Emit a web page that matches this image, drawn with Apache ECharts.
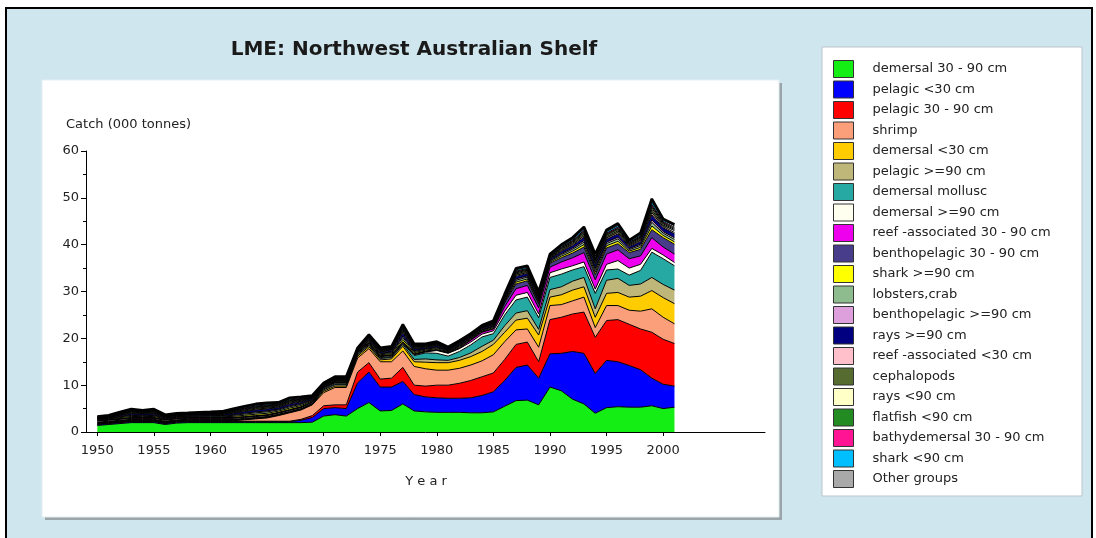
<!DOCTYPE html>
<html>
<head>
<meta charset="utf-8">
<title>LME: Northwest Australian Shelf</title>
<script src="https://cdn.jsdelivr.net/npm/echarts@6.0.0/dist/echarts.min.js"></script>
<style>
  html, body { margin: 0; padding: 0; background: #ffffff; }
  #chart { width: 1096px; height: 538px; }
</style>
</head>
<body>
<div id="chart"></div>
<script>
// Catch by functional group, thousand tonnes per year
const years = [1950,1951,1952,1953,1954,1955,1956,1957,1958,1959,
  1960,1961,1962,1963,1964,1965,1966,1967,1968,1969,
  1970,1971,1972,1973,1974,1975,1976,1977,1978,1979,
  1980,1981,1982,1983,1984,1985,1986,1987,1988,1989,
  1990,1991,1992,1993,1994,1995,1996,1997,1998,1999,
  2000,2001];

const tickYears = [1950, 1955, 1960, 1965, 1970, 1975, 1980, 1985, 1990, 1995, 2000];

const demersal30to90 = [1.4,1.6,1.8,2.0,2.0,2.0,1.6,1.9,2.0,2.0,
  2.0,2.0,2.0,2.0,2.0,2.0,2.0,2.0,2.0,2.1,
  3.4,3.7,3.4,5.0,6.3,4.5,4.6,6.0,4.5,4.3,
  4.2,4.2,4.2,4.1,4.1,4.3,5.5,6.7,6.8,5.8,
  9.6,8.8,7.0,6.0,4.0,5.2,5.4,5.3,5.3,5.6,
  5.0,5.3];
const pelagicUnder30 = [0.2,0.2,0.2,0.2,0.2,0.2,0.2,0.2,0.2,0.2,
  0.2,0.2,0.2,0.2,0.2,0.2,0.2,0.2,0.5,1.0,
  1.6,1.5,1.6,5.5,6.5,5.1,5.0,4.8,3.5,3.2,
  3.1,3.0,3.0,3.2,3.7,4.3,5.5,7.1,7.5,5.7,
  7.1,8.0,10.2,10.8,8.5,10.1,9.6,8.9,8.0,5.9,
  5.2,4.5];
const pelagic30to90 = [0.1,0.1,0.1,0.1,0.1,0.1,0.1,0.1,0.1,0.1,
  0.1,0.1,0.1,0.1,0.1,0.1,0.1,0.1,0.2,0.4,
  0.6,0.6,0.8,2.3,2.0,1.7,1.9,3.0,2.0,2.3,
  2.7,2.8,3.2,3.7,4.0,4.0,4.5,4.9,4.9,3.5,
  7.3,7.7,8.0,8.8,7.7,8.5,9.0,8.8,8.7,9.8,
  9.6,9.1];
const shrimp = [0.1,0.1,0.1,0.1,0.1,0.1,0.1,0.1,0.1,0.1,
  0.1,0.1,0.1,0.3,0.5,0.7,1.2,1.8,2.0,2.3,
  2.8,3.7,3.7,3.0,3.0,3.7,3.5,3.5,4.0,3.7,
  3.2,3.2,3.2,3.3,3.4,3.9,3.8,3.1,2.8,3.1,
  3.0,2.7,2.8,3.2,2.1,3.2,3.0,3.0,3.8,5.0,
  4.7,4.2];
const demersalUnder30 = [0.1,0.1,0.1,0.1,0.1,0.1,0.1,0.1,0.1,0.1,
  0.1,0.1,0.1,0.1,0.1,0.1,0.1,0.1,0.1,0.1,
  0.3,0.3,0.3,0.4,0.4,0.4,0.6,1.0,1.0,1.4,
  1.6,1.6,1.7,1.8,2.0,2.2,2.0,2.1,2.3,2.6,
  1.8,2.1,2.3,2.2,2.2,2.6,2.8,2.8,3.2,3.9,
  4.2,4.3];
const pelagic90plus = [0.1,0.1,0.1,0.1,0.1,0.1,0.1,0.1,0.1,0.1,
  0.1,0.1,0.1,0.1,0.1,0.1,0.1,0.1,0.1,0.1,
  0.3,0.3,0.3,0.3,0.3,0.3,0.3,0.4,0.5,0.7,
  0.6,0.5,0.6,0.8,1.1,0.9,1.4,1.5,1.6,1.2,
  1.6,1.7,1.9,2.0,1.8,2.8,3.0,2.5,2.6,2.8,
  2.8,2.9];
const demersalMollusc = [0.1,0.1,0.1,0.1,0.1,0.1,0.1,0.1,0.1,0.1,
  0.1,0.1,0.1,0.1,0.1,0.1,0.1,0.1,0.1,0.1,
  0.2,0.2,0.2,0.2,0.2,0.2,0.2,0.2,0.8,1.3,
  1.4,0.9,1.3,1.7,2.0,1.4,2.3,2.8,2.9,2.5,
  2.6,2.7,2.4,2.3,3.3,2.2,2.0,2.2,2.9,5.4,
  5.5,5.2];
const demersal90plus = [0.2,0.2,0.2,0.2,0.2,0.2,0.2,0.2,0.2,0.2,
  0.2,0.2,0.2,0.2,0.2,0.2,0.2,0.2,0.2,0.2,
  0.2,0.2,0.2,0.2,0.2,0.2,0.2,0.2,0.2,0.2,
  0.6,0.6,0.6,0.6,0.6,0.6,0.8,1.0,1.0,0.8,
  1.0,1.1,0.9,1.0,0.9,1.2,1.8,1.5,1.3,0.8,
  0.8,0.7];
const reef30to90 = [0.1,0.1,0.1,0.1,0.1,0.1,0.1,0.1,0.1,0.1,
  0.1,0.1,0.1,0.1,0.1,0.1,0.1,0.1,0.1,0.1,
  0.1,0.1,0.1,0.1,0.1,0.1,0.1,0.1,0.1,0.1,
  0.1,0.1,0.1,0.4,0.4,0.4,1.0,1.4,1.5,1.3,
  1.2,1.5,1.7,2.0,2.0,2.2,2.3,2.0,1.8,2.3,
  1.7,1.8];
const benthopelagic30to90 = [0.1,0.1,0.1,0.1,0.1,0.1,0.1,0.1,0.1,0.1,
  0.1,0.1,0.1,0.1,0.1,0.1,0.1,0.1,0.1,0.1,
  0.1,0.1,0.1,0.1,0.1,0.1,0.1,0.1,0.1,0.1,
  0.1,0.1,0.1,0.1,0.1,0.1,0.8,1.0,1.0,0.8,
  0.8,0.9,1.0,1.2,1.1,1.3,1.3,1.3,1.4,1.7,
  2.0,2.1];
const shark90plus = [.10,.11,.17,.22,.18,.22,.12,.12,.12,.13,
  .14,.16,.23,.26,.30,.30,.25,.30,.25,.16,
  .11,.13,.13,.11,.20,.20,.22,.44,.25,.18,
  .20,.14,.18,.16,.17,.20,.23,.41,.38,.32,
  .24,.34,.40,.52,.53,.47,.52,.32,.42,.79,
  .48,.50];
const lobstersCrab = [.09,.11,.16,.22,.19,.21,.12,.13,.12,.13,
  .15,.15,.22,.27,.29,.31,.25,.29,.26,.16,
  .12,.13,.14,.11,.19,.21,.21,.45,.24,.19,
  .21,.14,.17,.17,.17,.19,.24,.40,.39,.31,
  .25,.33,.41,.51,.54,.46,.53,.31,.43,.78,
  .49,.52];
const benthopelagic90plus = [.06,.07,.11,.14,.12,.14,.08,.08,.08,.09,
  .10,.10,.15,.18,.20,.20,.17,.20,.17,.10,
  .07,.09,.09,.07,.14,.14,.14,.30,.17,.12,
  .14,.10,.12,.10,.11,.14,.15,.27,.26,.22,
  .16,.22,.26,.34,.35,.31,.34,.22,.28,.53,
  .32,.34];
const rays90plus = [.13,.14,.22,.29,.24,.29,.16,.16,.16,.18,
  .19,.21,.30,.35,.40,.40,.34,.40,.34,.21,
  .14,.18,.18,.14,.27,.27,.29,.59,.34,.24,
  .27,.19,.24,.21,.22,.27,.30,.54,.51,.43,
  .32,.45,.53,.69,.70,.62,.69,.43,.56,1.06,
  .80,.85];
const reefUnder30 = [.06,.06,.10,.13,.11,.13,.07,.07,.07,.08,
  .08,.09,.13,.15,.18,.18,.15,.18,.15,.09,
  .06,.08,.08,.06,.12,.12,.13,.26,.15,.11,
  .12,.08,.11,.09,.10,.12,.13,.24,.22,.19,
  .14,.20,.23,.30,.31,.27,.30,.19,.25,.46,
  .28,.29];
const cephalopods = [.07,.08,.13,.16,.14,.16,.09,.09,.09,.10,
  .11,.12,.17,.20,.23,.23,.19,.23,.19,.12,
  .08,.10,.10,.08,.15,.15,.16,.33,.19,.14,
  .15,.11,.14,.12,.13,.15,.17,.31,.29,.24,
  .18,.25,.30,.39,.40,.35,.39,.24,.32,.59,
  .36,.38];
const raysUnder90 = [.05,.05,.08,.11,.09,.11,.06,.06,.06,.07,
  .07,.08,.11,.13,.15,.15,.13,.15,.13,.08,
  .05,.07,.07,.05,.10,.10,.11,.22,.13,.09,
  .10,.07,.09,.08,.08,.10,.11,.20,.19,.16,
  .12,.17,.20,.26,.26,.23,.26,.16,.21,.40,
  .24,.25];
const flatfishUnder90 = [.05,.05,.09,.10,.09,.12,.06,.05,.06,.07,
  .08,.07,.11,.14,.15,.14,.13,.16,.12,.08,
  .06,.07,.06,.05,.11,.10,.10,.23,.12,.09,
  .11,.07,.08,.08,.09,.10,.11,.19,.20,.16,
  .12,.16,.21,.26,.25,.24,.25,.17,.21,.41,
  .23,.25];
const bathydemersal30to90 = [.05,.05,.07,.11,.10,.10,.06,.07,.06,.06,
  .06,.09,.11,.12,.15,.16,.13,.14,.14,.08,
  .04,.07,.08,.05,.09,.10,.12,.21,.14,.09,
  .09,.07,.10,.08,.07,.10,.11,.21,.18,.16,
  .12,.18,.19,.26,.27,.22,.27,.15,.21,.39,
  .25,.25];
const sharkUnder90 = [.06,.07,.11,.14,.12,.14,.08,.08,.08,.09,
  .10,.10,.15,.18,.20,.20,.17,.20,.17,.10,
  .07,.09,.09,.07,.14,.14,.14,.30,.17,.12,
  .14,.10,.12,.10,.11,.14,.15,.27,.26,.22,
  .16,.22,.26,.34,.35,.31,.34,.22,.28,.53,
  .32,.34];
const otherGroups = [.08,.09,.14,.18,.15,.18,.10,.10,.10,.11,
  .12,.13,.19,.22,.25,.25,.21,.25,.21,.13,
  .09,.11,.11,.09,.17,.17,.18,.37,.21,.15,
  .17,.12,.15,.13,.14,.17,.19,.34,.32,.27,
  .20,.28,.33,.43,.44,.39,.43,.27,.35,.66,
  .24,.24];

const groupNames = [
  'demersal 30 - 90 cm', 'pelagic <30 cm', 'pelagic 30 - 90 cm', 'shrimp',
  'demersal <30 cm', 'pelagic >=90 cm', 'demersal mollusc', 'demersal >=90 cm',
  'reef -associated 30 - 90 cm', 'benthopelagic 30 - 90 cm', 'shark >=90 cm',
  'lobsters,crab', 'benthopelagic >=90 cm', 'rays >=90 cm', 'reef -associated <30 cm',
  'cephalopods', 'rays <90 cm', 'flatfish <90 cm', 'bathydemersal 30 - 90 cm',
  'shark <90 cm', 'Other groups'
];
const groupValues = [
  demersal30to90, pelagicUnder30, pelagic30to90, shrimp, demersalUnder30,
  pelagic90plus, demersalMollusc, demersal90plus, reef30to90, benthopelagic30to90,
  shark90plus, lobstersCrab, benthopelagic90plus, rays90plus, reefUnder30,
  cephalopods, raysUnder90, flatfishUnder90, bathydemersal30to90, sharkUnder90, otherGroups
];

// fill colour for each group, bottom of the stack first
const groupColors = [
  '#14ee14', '#0000ff', '#ff0000', '#fa9f7a', '#ffcc00', '#bfb779', '#27a9a3',
  '#fffff0', '#ee00ee', '#483d8b', '#ffff00', '#8fbc8f', '#dda0dd', '#000080',
  '#ffc0cb', '#556b2f', '#ffffc8', '#228b22', '#ff1493', '#00bfff', '#a9a9a9'
];

const FONT = 'DejaVu Sans';

// The year axis runs one year before the first record and on to 2009
const AXIS_FIRST_YEAR = 1949;
const AXIS_LAST_YEAR = 2009;
const axisYears = [];
for (let y = AXIS_FIRST_YEAR; y <= AXIS_LAST_YEAR; y++) axisYears.push(String(y));

const isTickYear = (idx, val) => tickYears.indexOf(Number(val)) >= 0;

const series = groupNames.map((name, i) => ({
  name: name,
  type: 'line',
  stack: 'catch',
  data: axisYears.map(y => {
    const j = years.indexOf(Number(y));
    return j >= 0 ? groupValues[i][j] : '-';
  }),
  symbol: 'none',
  showSymbol: false,
  smooth: false,
  connectNulls: false,
  // the outermost group carries the heavy outline along the top of the stack
  lineStyle: { color: '#000', width: i === groupNames.length - 1 ? 2.6 : 1 },
  itemStyle: { color: groupColors[i] },
  areaStyle: { color: groupColors[i], opacity: 1 },
  emphasis: { disabled: true },
  silent: true
}));

const chart = echarts.init(document.getElementById('chart'), null, { renderer: 'canvas' });

chart.setOption({
  animation: false,
  backgroundColor: '#ffffff',
  graphic: [
    { type: 'rect', z: -20, shape: { x: 6, y: 8, width: 1086, height: 545 },
      style: { fill: '#d0e6ee', stroke: '#000', lineWidth: 2 } },
    { type: 'rect', z: -19, shape: { x: 45, y: 83, width: 737, height: 437 },
      style: { fill: '#9ba4a9' } },
    { type: 'rect', z: -18, shape: { x: 42, y: 80, width: 737, height: 437 },
      style: { fill: '#ffffff', stroke: '#e2eef3', lineWidth: 1 } },
    { type: 'rect', z: -18, shape: { x: 822, y: 47, width: 260, height: 449 },
      style: { fill: '#ffffff', stroke: '#b9c5cb', lineWidth: 1 } },
    { type: 'text', z: 10, x: 414, y: 50,
      style: { text: 'LME: Northwest Australian Shelf', fill: '#1a1a1a',
        font: 'bold 20px "DejaVu Sans"', align: 'center', verticalAlign: 'middle' } },
    { type: 'text', z: 10, x: 66, y: 125,
      style: { text: 'Catch (000 tonnes)', fill: '#222',
        font: '13px "DejaVu Sans"', align: 'left', verticalAlign: 'middle' } },
    { type: 'text', z: 10, x: 426, y: 482,
      style: { text: 'Y e a r', fill: '#222',
        font: '13px "DejaVu Sans"', align: 'center', verticalAlign: 'middle' } }
  ],
  grid: { left: 86, top: 151, width: 679, height: 281, containLabel: false },
  xAxis: {
    type: 'category',
    data: axisYears,
    boundaryGap: false,
    axisLine: { show: true, lineStyle: { color: '#000', width: 1 } },
    axisTick: { show: true, interval: isTickYear, length: 4, lineStyle: { color: '#000' } },
    axisLabel: { interval: isTickYear, color: '#222', fontFamily: FONT, fontSize: 13, margin: 12 },
    splitLine: { show: false }
  },
  yAxis: {
    type: 'value',
    min: 0,
    max: 60,
    interval: 10,
    axisLine: { show: true, lineStyle: { color: '#000', width: 1 } },
    axisTick: { show: true, length: 5, lineStyle: { color: '#000' } },
    minorTick: { show: true, splitNumber: 2, length: 3, lineStyle: { color: '#000' } },
    axisLabel: { color: '#222', fontFamily: FONT, fontSize: 13, margin: 7 },
    splitLine: { show: false }
  },
  legend: {
    orient: 'vertical',
    left: 833,
    top: 60,
    padding: 0,
    itemWidth: 20,
    itemHeight: 17,
    itemGap: 2.5,
    icon: 'rect',
    selectedMode: false,
    itemStyle: { borderColor: '#333', borderWidth: 1 },
    textStyle: { fontFamily: FONT, fontSize: 13, color: '#222', padding: [0, 0, 0, 14] },
    data: groupNames
  },
  series: series
});
</script>
</body>
</html>
